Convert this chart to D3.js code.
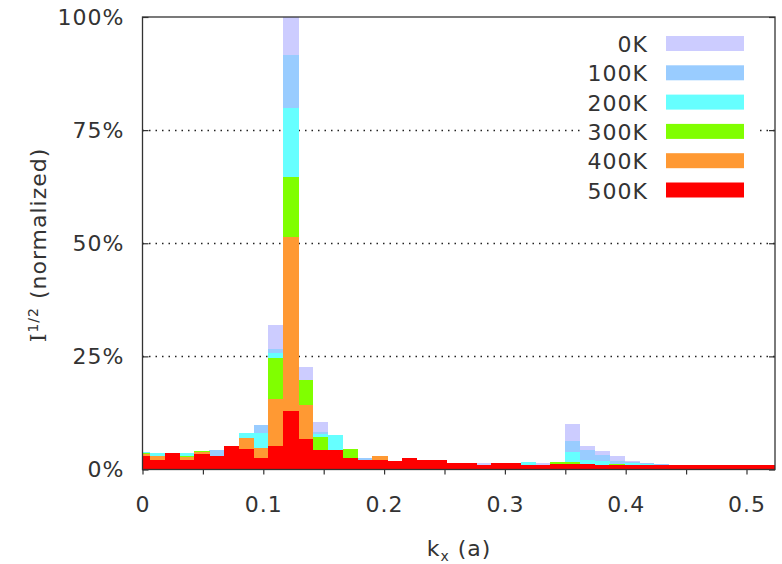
<!DOCTYPE html>
<html>
<head>
<meta charset="utf-8">
<script src="https://cdn.jsdelivr.net/npm/d3@7"></script>
<style>
  body { margin: 0; background: #fff; }
  svg text { font-family: "DejaVu Sans", Verdana, sans-serif; fill: #333; }
</style>
</head>
<body>
<script>
'use strict';

// bin centres along kx (a)
let kx = [0, 0.0123, 0.0245, 0.0368, 0.0491, 0.0614, 0.0736, 0.0859, 0.0982, 0.1104,
  0.1227, 0.1350, 0.1473, 0.1595, 0.1718, 0.1841, 0.1963, 0.2086, 0.2209, 0.2332,
  0.2454, 0.2577, 0.2700, 0.2822, 0.2945, 0.3068, 0.3191, 0.3313, 0.3436, 0.3559,
  0.3682, 0.3804, 0.3927, 0.4050, 0.4172, 0.4295, 0.4418, 0.4541, 0.4663, 0.4786,
  0.4909, 0.5032, 0.5154, 0.5277];
let binWidth = 0.01227;

let temps = ["0K", "100K", "200K", "300K", "400K", "500K"];
let colors = ["#ccccff", "#99ccff", "#66ffff", "#80ff00", "#ff9933", "#ff0000"];

// I^1/2 normalized, percent
let t0K = [3.9, 3.6, 3.5, 3.7, 4.1, 4.2, 5.3, 8.1, 9.9, 32.0,
  100, 22.6, 10.5, 7.7, 4.6, 2.6, 2.6, 1.8, 2.6, 2.0,
  2.0, 1.5, 1.5, 1.4, 1.5, 1.5, 1.6, 1.4, 1.6, 10.1,
  5.3, 4.0, 2.9, 1.8, 1.5, 1.2, 0.9, 0.9, 0.9, 0.9,
  0.9, 0.9, 0.9, 0.9];
let t100K = [3.9, 3.6, 3.5, 3.7, 4.1, 4.2, 5.3, 8.1, 9.9, 26.7,
  91.7, 19.8, 8.3, 7.7, 4.6, 2.6, 2.6, 1.8, 2.6, 2.0,
  2.0, 1.5, 1.5, 1.1, 1.5, 1.5, 1.6, 1.1, 1.6, 6.4,
  4.2, 3.1, 1.8, 1.7, 1.5, 1.2, 0.9, 0.9, 0.9, 0.9,
  0.9, 0.9, 0.9, 0.9];
let t200K = [3.8, 3.6, 3.5, 3.6, 4.1, 3.0, 5.3, 8.0, 8.0, 25.7,
  80.0, 19.8, 7.9, 7.7, 4.6, 2.2, 2.6, 1.8, 2.6, 2.0,
  2.0, 1.5, 1.5, 1.1, 1.5, 1.5, 1.6, 1.1, 1.6, 3.8,
  2.2, 1.8, 1.2, 1.5, 1.2, 1.0, 0.9, 0.9, 0.9, 0.9,
  0.9, 0.9, 0.9, 0.9];
let t300K = [3.6, 3.0, 3.5, 2.9, 4.0, 3.0, 5.3, 7.0, 4.7, 24.6,
  64.7, 19.8, 7.1, 4.2, 4.6, 2.2, 2.6, 1.8, 2.6, 2.0,
  2.0, 1.5, 1.5, 1.1, 1.5, 1.5, 1.1, 1.1, 1.6, 1.6,
  1.3, 1.1, 1.2, 1.1, 1.1, 1.0, 0.9, 0.9, 0.9, 0.9,
  0.9, 0.9, 0.9, 0.9];
let t400K = [3.4, 2.9, 3.5, 2.7, 3.8, 2.9, 5.2, 7.0, 4.7, 15.6,
  51.4, 14.3, 4.2, 4.2, 2.6, 2.1, 2.9, 1.8, 2.6, 2.0,
  2.0, 1.5, 1.5, 1.1, 1.5, 1.5, 1.1, 1.1, 1.3, 1.3,
  1.3, 1.1, 0.9, 1.1, 1.1, 1.0, 0.9, 0.9, 0.9, 0.9,
  0.9, 0.9, 0.9, 0.9];
let t500K = [2.9, 2.1, 3.6, 2.1, 3.5, 2.9, 5.1, 4.6, 2.5, 5.3,
  12.9, 6.8, 4.2, 4.2, 2.6, 2.1, 2.1, 1.8, 2.6, 2.0,
  2.0, 1.5, 1.5, 1.1, 1.5, 1.5, 1.1, 1.1, 1.3, 1.3,
  1.3, 1.1, 0.9, 1.1, 1.1, 1.0, 0.9, 0.9, 0.9, 0.9,
  0.9, 0.9, 0.9, 0.9];

let series = [t0K, t100K, t200K, t300K, t400K, t500K];

let xTicks = [0, 0.05, 0.1, 0.15, 0.2, 0.25, 0.3, 0.35, 0.4, 0.45, 0.5];
let yTicks = [0, 25, 50, 75, 100];
let gridTicks = [25, 50, 75];

(function() {

  let svg = d3.select('body')
    .append('svg')
    .attr('width', 782)
    .attr('height', 564);

  let pLeft = 142.5, pRight = 775, pTop = 17, pBottom = 469.5;

  let xScale = d3.scaleLinear().domain([0, 0.5236]).range([pLeft, pRight]);
  let yScale = d3.scaleLinear().domain([0, 100]).range([pBottom, pTop]);

  // clip for bars
  svg.append('clipPath').attr('id', 'plot')
    .append('rect')
    .attr('x', pLeft).attr('y', pTop)
    .attr('width', pRight - pLeft).attr('height', pBottom - pTop);

  // dotted grid
  svg.append('g').selectAll('line')
    .data(gridTicks)
    .enter()
    .append('line')
      .attr('x1', pLeft).attr('x2', pRight)
      .attr('y1', d => Math.round(yScale(d)) + 0.5)
      .attr('y2', d => Math.round(yScale(d)) + 0.5)
      .attr('stroke', '#222')
      .attr('stroke-width', 1.3)
      .attr('stroke-dasharray', '1.5,5');

  // overlaid histograms, 0K at the back
  let bars = svg.append('g').attr('clip-path', 'url(#plot)').attr('shape-rendering', 'crispEdges');
  series.forEach(function(vals, s) {
    bars.append('g')
      .selectAll('rect')
      .data(vals)
      .enter()
      .append('rect')
        .attr('x', (d, i) => xScale(kx[i] - binWidth / 2))
        .attr('width', (d, i) => xScale(kx[i] + binWidth / 2) - xScale(kx[i] - binWidth / 2) + 0.5)
        .attr('y', d => yScale(d))
        .attr('height', d => pBottom - yScale(d))
        .attr('fill', colors[s]);
  });

  // x axis (ticks outward)
  let xAxis = d3.axisBottom(xScale)
    .tickValues(xTicks)
    .tickSize(5)
    .tickSizeOuter(0)
    .tickPadding(22)
    .tickFormat(d => (Math.round(d * 100) % 10 === 0) ? d3.format('~g')(d) : '');
  let gx = svg.append('g')
    .attr('transform', 'translate(0,' + pBottom + ')')
    .call(xAxis);

  // y axis (ticks inward)
  let yAxis = d3.axisLeft(yScale)
    .tickValues(yTicks)
    .tickSize(-6)
    .tickSizeOuter(0)
    .tickPadding(18)
    .tickFormat(d => d + '%');
  let gy = svg.append('g')
    .attr('transform', 'translate(' + pLeft + ',0)')
    .call(yAxis);

  let gr = svg.append('g')
    .attr('transform', 'translate(' + pRight + ',0)')
    .call(d3.axisRight(yScale).tickValues(yTicks).tickSize(-6).tickSizeOuter(0).tickFormat(''));

  [gx, gy, gr].forEach(function(g) {
    g.select('.domain').remove();
    g.selectAll('line').attr('stroke', '#333').attr('stroke-width', 1.2);
    g.selectAll('text').style('font-size', '22px').style('letter-spacing', '1px').attr('fill', '#333');
  });

  // frame
  svg.append('rect')
    .attr('x', pLeft).attr('y', pTop)
    .attr('width', pRight - pLeft).attr('height', pBottom - pTop)
    .attr('fill', 'none')
    .attr('stroke', '#333')
    .attr('stroke-width', 1.3);

  // legend
  let legend = svg.append('g');
  legend.append('rect')
    .attr('x', 580).attr('y', 29)
    .attr('width', 176).attr('height', 173)
    .attr('fill', '#fff');
  legend.selectAll('.sw')
    .data(temps)
    .enter()
    .append('rect')
      .attr('x', 666)
      .attr('y', (d, i) => 36 + i * 29.3)
      .attr('width', 78)
      .attr('height', 15)
      .attr('fill', (d, i) => colors[i]);
  legend.selectAll('.lab')
    .data(temps)
    .enter()
    .append('text')
      .attr('x', 648)
      .attr('y', (d, i) => 52 + i * 29.3)
      .attr('text-anchor', 'end')
      .style('font-size', '22px')
      .style('letter-spacing', '1px')
      .text(d => d);

  // axis titles
  let xt = svg.append('text')
    .attr('x', 459)
    .attr('y', 556)
    .attr('text-anchor', 'middle')
    .style('font-size', '22px')
    .style('letter-spacing', '1px');
  xt.append('tspan').text('k');
  xt.append('tspan').attr('dy', 5).style('font-size', '14px').text('x');
  xt.append('tspan').attr('dy', -5).text(' (a)');

  let yt = svg.append('text')
    .attr('transform', 'translate(46,245)rotate(-90)')
    .attr('text-anchor', 'middle')
    .style('font-size', '22px')
    .style('letter-spacing', '1px');
  yt.append('tspan').style('font-family', '"DejaVu Serif", serif').text('I');
  yt.append('tspan').attr('dy', -8).style('font-size', '14px').text('1/2');
  yt.append('tspan').attr('dy', 8).text(' (normalized)');

})();
</script>
</body>
</html>
